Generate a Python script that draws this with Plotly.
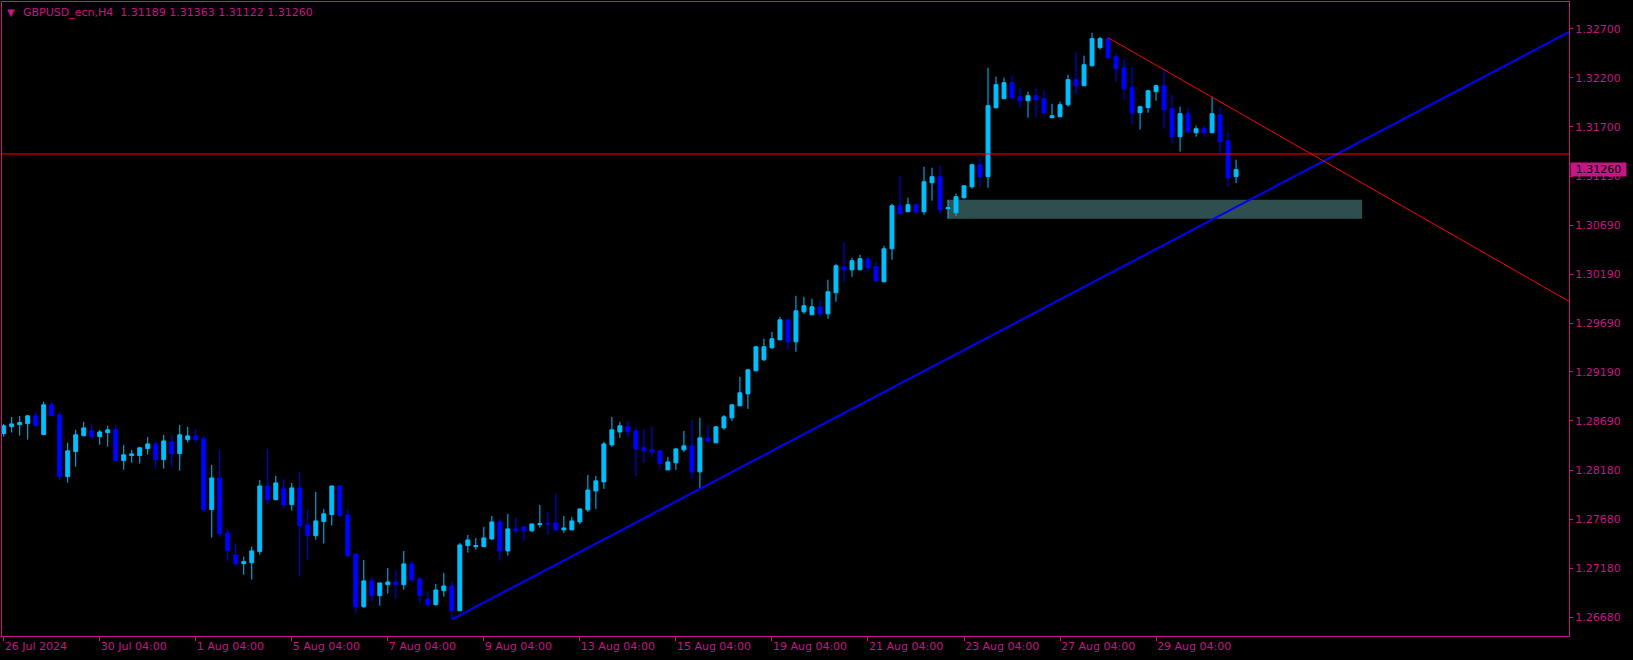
import plotly.graph_objects as go

# ---------------- data ----------------
symbol_title = "GBPUSD_ecn,H4  1.31189 1.31363 1.31122 1.31260"

opens = [
    1.28559, 1.28631, 1.28651, 1.28661, 1.28740, 1.28549, 1.28853, 1.28750, 1.28119, 1.28375,
    1.28538, 1.28587, 1.28528, 1.28569, 1.28597, 1.28282, 1.28334, 1.28334, 1.28405, 1.28453,
    1.28293, 1.28474, 1.28354, 1.28497, 1.28535, 1.28505, 1.27781, 1.28105, 1.27542, 1.27317,
    1.27228, 1.27238, 1.27351, 1.28023, 1.27883, 1.27993, 1.27832, 1.28003, 1.27624, 1.27514,
    1.27658, 1.27730, 1.28023, 1.27726, 1.27327, 1.26787, 1.27051, 1.26900, 1.27013, 1.27040,
    1.27013, 1.27225, 1.27071, 1.26866, 1.26808, 1.26951, 1.26999, 1.26746, 1.27412, 1.27402,
    1.27402, 1.27481, 1.27655, 1.27358, 1.27583, 1.27604, 1.27563, 1.27627, 1.27641, 1.27645,
    1.27573, 1.27573, 1.27655, 1.27778, 1.27972, 1.28064, 1.28443, 1.28576, 1.28628, 1.28587,
    1.28413, 1.28392, 1.28382, 1.28187, 1.28259, 1.28392, 1.28433, 1.28167, 1.28515, 1.28464,
    1.28617, 1.28720, 1.28843, 1.28965, 1.29201, 1.29314, 1.29437, 1.29518, 1.29723, 1.29498,
    1.29805, 1.29774, 1.29856, 1.29785, 1.30000, 1.30266, 1.30235, 1.30235, 1.30348, 1.30266,
    1.30112, 1.30450, 1.30891, 1.30829, 1.30901, 1.30829, 1.31126, 1.31188, 1.30860, 1.30819,
    1.30973, 1.31085, 1.31310, 1.31188, 1.31894, 1.31986, 1.32150, 1.32007, 1.31966, 1.32017,
    1.31986, 1.31792, 1.31802, 1.31925, 1.32181, 1.32119, 1.32324, 1.32509, 1.32601, 1.32416,
    1.32304, 1.32099, 1.31843, 1.31894, 1.32058, 1.32119, 1.31884, 1.31597, 1.31833, 1.31638,
    1.31679, 1.31638, 1.31822, 1.31556, 1.31189,
]
highs = [
    1.28658, 1.28730, 1.28740, 1.28750, 1.28781, 1.28884, 1.28884, 1.28781, 1.28464, 1.28597,
    1.28679, 1.28658, 1.28597, 1.28638, 1.28648, 1.28443, 1.28392, 1.28423, 1.28525, 1.28474,
    1.28546, 1.28546, 1.28648, 1.28628, 1.28607, 1.28535, 1.28238, 1.28392, 1.27583, 1.27429,
    1.27299, 1.27402, 1.28085, 1.28402, 1.28126, 1.28095, 1.28054, 1.28167, 1.27781, 1.27962,
    1.27788, 1.28023, 1.28034, 1.27788, 1.27327, 1.27266, 1.27092, 1.27030, 1.27184, 1.27163,
    1.27358, 1.27255, 1.27092, 1.26948, 1.27020, 1.27133, 1.27040, 1.27440, 1.27522, 1.27491,
    1.27604, 1.27716, 1.27685, 1.27737, 1.27696, 1.27614, 1.27634, 1.27829, 1.27757, 1.27941,
    1.27716, 1.27706, 1.27788, 1.28136, 1.28126, 1.28474, 1.28730, 1.28679, 1.28689, 1.28628,
    1.28607, 1.28638, 1.28382, 1.28320, 1.28413, 1.28587, 1.28699, 1.28720, 1.28648, 1.28638,
    1.28750, 1.28853, 1.29140, 1.29221, 1.29457, 1.29529, 1.29600, 1.29754, 1.29723, 1.29969,
    1.29959, 1.29938, 1.29928, 1.30133, 1.30297, 1.30522, 1.30358, 1.30389, 1.30358, 1.30317,
    1.30481, 1.30911, 1.31198, 1.30973, 1.30911, 1.31290, 1.31280, 1.31300, 1.30952, 1.31013,
    1.31095, 1.31321, 1.31372, 1.32304, 1.32212, 1.32201, 1.32222, 1.32099, 1.32058, 1.32099,
    1.32078, 1.31935, 1.31956, 1.32232, 1.32468, 1.32427, 1.32662, 1.32621, 1.32611, 1.32447,
    1.32396, 1.32314, 1.31915, 1.32078, 1.32130, 1.32283, 1.32027, 1.31904, 1.31894, 1.31710,
    1.31710, 1.32007, 1.31894, 1.31648, 1.31363,
]
lows = [
    1.28528, 1.28569, 1.28538, 1.28497, 1.28641, 1.28549, 1.28733, 1.28078, 1.28057, 1.28221,
    1.28528, 1.28508, 1.28446, 1.28426, 1.28282, 1.28190, 1.28262, 1.28252, 1.28344, 1.28201,
    1.28201, 1.28221, 1.28180, 1.28467, 1.28467, 1.27760, 1.27494, 1.27504, 1.27258, 1.27197,
    1.27115, 1.27064, 1.27320, 1.27832, 1.27873, 1.27791, 1.27770, 1.27095, 1.27269, 1.27473,
    1.27433, 1.27617, 1.27709, 1.27289, 1.26716, 1.26777, 1.26839, 1.26798, 1.26921, 1.26869,
    1.26962, 1.27033, 1.26828, 1.26777, 1.26798, 1.26890, 1.26658, 1.26746, 1.27340, 1.27371,
    1.27402, 1.27470, 1.27258, 1.27310, 1.27532, 1.27460, 1.27555, 1.27596, 1.27522, 1.27573,
    1.27542, 1.27573, 1.27634, 1.27757, 1.27788, 1.27993, 1.28423, 1.28515, 1.28525, 1.28126,
    1.28259, 1.28320, 1.28197, 1.28187, 1.28187, 1.28372, 1.28095, 1.27993, 1.28464, 1.28464,
    1.28597, 1.28689, 1.28843, 1.28812, 1.29201, 1.29303, 1.29426, 1.29518, 1.29416, 1.29396,
    1.29785, 1.29774, 1.29754, 1.29733, 1.29908, 1.30112, 1.30164, 1.30235, 1.30215, 1.30102,
    1.30112, 1.30338, 1.30809, 1.30829, 1.30809, 1.30798, 1.30942, 1.30809, 1.30757, 1.30788,
    1.30962, 1.31065, 1.31095, 1.31075, 1.31884, 1.31986, 1.31976, 1.31894, 1.31792, 1.31792,
    1.31812, 1.31792, 1.31802, 1.31904, 1.32027, 1.32119, 1.32314, 1.32488, 1.32396, 1.32160,
    1.31976, 1.31730, 1.31669, 1.31843, 1.31966, 1.31679, 1.31525, 1.31444, 1.31628, 1.31597,
    1.31597, 1.31638, 1.31423, 1.31085, 1.31122,
]
closes = [
    1.28638, 1.28658, 1.28672, 1.28740, 1.28641, 1.28853, 1.28743, 1.28119, 1.28382, 1.28546,
    1.28617, 1.28528, 1.28576, 1.28597, 1.28282, 1.28341, 1.28351, 1.28413, 1.28453, 1.28293,
    1.28484, 1.28354, 1.28546, 1.28535, 1.28497, 1.27781, 1.28105, 1.27535, 1.27361, 1.27228,
    1.27248, 1.27358, 1.28023, 1.27883, 1.28054, 1.27832, 1.28003, 1.27617, 1.27514, 1.27665,
    1.27737, 1.28023, 1.27719, 1.27310, 1.26787, 1.27051, 1.26900, 1.27030, 1.27040, 1.27013,
    1.27225, 1.27064, 1.26900, 1.26808, 1.26958, 1.26999, 1.26746, 1.27419, 1.27470, 1.27412,
    1.27491, 1.27655, 1.27358, 1.27583, 1.27563, 1.27563, 1.27634, 1.27637, 1.27634, 1.27573,
    1.27593, 1.27665, 1.27788, 1.27982, 1.28075, 1.28453, 1.28597, 1.28638, 1.28576, 1.28402,
    1.28382, 1.28372, 1.28252, 1.28269, 1.28402, 1.28433, 1.28167, 1.28515, 1.28484, 1.28628,
    1.28730, 1.28853, 1.28976, 1.29211, 1.29447, 1.29447, 1.29529, 1.29723, 1.29498, 1.29815,
    1.29867, 1.29856, 1.29785, 1.30010, 1.30276, 1.30235, 1.30327, 1.30348, 1.30256, 1.30123,
    1.30450, 1.30891, 1.30809, 1.30901, 1.30829, 1.31136, 1.31188, 1.30850, 1.30870, 1.30983,
    1.31095, 1.31310, 1.31188, 1.31915, 1.32130, 1.32150, 1.31996, 1.31966, 1.32017, 1.31976,
    1.31843, 1.31812, 1.31925, 1.32181, 1.32119, 1.32334, 1.32601, 1.32601, 1.32406, 1.32293,
    1.32089, 1.31843, 1.31904, 1.32068, 1.32119, 1.31874, 1.31597, 1.31833, 1.31648, 1.31679,
    1.31638, 1.31833, 1.31546, 1.31177, 1.31260,
]
bar_index = list(range(len(opens)))

date_tick_index = [0, 12, 24, 36, 48, 60, 72, 84, 96, 108, 120, 132, 144]
date_tick_labels = ["26 Jul 2024", "30 Jul 04:00", "1 Aug 04:00", "5 Aug 04:00",
                    "7 Aug 04:00", "9 Aug 04:00", "13 Aug 04:00", "15 Aug 04:00",
                    "19 Aug 04:00", "21 Aug 04:00", "23 Aug 04:00", "27 Aug 04:00",
                    "29 Aug 04:00"]

price_ticks = [1.32700, 1.32200, 1.31700, 1.31190, 1.30690, 1.30190, 1.29690,
               1.29190, 1.28690, 1.28180, 1.27680, 1.27180, 1.26680]
price_tick_labels = ["1.32700", "1.32200", "1.31700", "1.31190", "1.30690", "1.30190",
                     "1.29690", "1.29190", "1.28690", "1.28180", "1.27680", "1.27180",
                     "1.26680"]

# objects drawn on the chart
support_anchor_bars = [56, 87]          # trend line through two lows
resistance_anchor_bars = [138, 145]     # trend line through two highs
horizontal_level = 1.31420
zone_bars = [118, 169.75]
zone_prices = [1.30757, 1.30952]
current_price = 1.31260

# view
x_view = [-0.21, 195.6]
y_view = [1.26487, 1.32976]

# ---------------- style ----------------
BULL = "#00BFFF"
BEAR = "#0000FF"
AXIS = "#C71585"
FONT = "DejaVu Sans"

fig = go.Figure()

fig.add_shape(type="rect", xref="x", yref="y",
              x0=zone_bars[0], x1=zone_bars[1], y0=zone_prices[0], y1=zone_prices[1],
              fillcolor="#2F4F4F", line=dict(width=0), layer="below")

fig.add_trace(go.Candlestick(
    x=bar_index, open=opens, high=highs, low=lows, close=closes,
    increasing=dict(line=dict(color=BULL, width=1), fillcolor=BULL),
    decreasing=dict(line=dict(color=BEAR, width=1), fillcolor=BEAR),
    whiskerwidth=0, showlegend=False, hoverinfo="skip",
))


def ray(anchors, values):
    x0, x1 = anchors
    y0, y1 = values[x0], values[x1]
    slope = (y1 - y0) / (x1 - x0)
    return [x0, x_view[1]], [y0, y0 + slope * (x_view[1] - x0)]


sx, sy = ray(support_anchor_bars, lows)
fig.add_trace(go.Scatter(x=sx, y=sy, mode="lines", line=dict(color="#0000FF", width=2),
                         showlegend=False, hoverinfo="skip"))

rx, ry = ray(resistance_anchor_bars, highs)
fig.add_trace(go.Scatter(x=rx, y=ry, mode="lines", line=dict(color="#FF0000", width=1),
                         showlegend=False, hoverinfo="skip"))

fig.add_trace(go.Scatter(x=x_view, y=[horizontal_level, horizontal_level], mode="lines",
                         line=dict(color="#FF0000", width=1),
                         showlegend=False, hoverinfo="skip"))

fig.add_annotation(xref="paper", yref="paper", x=0, y=1, xanchor="left", yanchor="middle",
                   xshift=3, yshift=-10, text="▼", showarrow=False,
                   font=dict(family=FONT, size=10, color=AXIS))
fig.add_annotation(xref="paper", yref="paper", x=0, y=1, xanchor="left", yanchor="middle",
                   xshift=19, yshift=-10, text=symbol_title, showarrow=False,
                   font=dict(family=FONT, size=11, color=AXIS))

fig.add_annotation(xref="paper", yref="y", x=1, y=current_price, xanchor="left",
                   yanchor="middle", xshift=1, text=f"{current_price:.5f}", showarrow=False,
                   bgcolor=AXIS, width=55, height=13, borderpad=0,
                   font=dict(family=FONT, size=11, color="#000000"))

fig.update_layout(
    width=1633, height=660,
    paper_bgcolor="#000000", plot_bgcolor="#000000",
    margin=dict(l=2, r=64, t=2, b=24),
    boxgap=0.3, boxgroupgap=0.3,
    showlegend=False,
    xaxis=dict(
        range=x_view, rangeslider=dict(visible=False), showgrid=False, zeroline=False,
        showline=True, linecolor=AXIS, linewidth=1, mirror=True,
        ticks="outside", ticklen=4, tickcolor=AXIS, tickwidth=1,
        tickvals=date_tick_index, ticktext=date_tick_labels,
        ticklabelposition="outside right",
        tickfont=dict(family=FONT, size=11, color=AXIS),
    ),
    yaxis=dict(
        range=y_view, side="right", showgrid=False, zeroline=False,
        showline=True, linecolor=AXIS, linewidth=1, mirror=True,
        ticks="outside", ticklen=3, tickcolor=AXIS, tickwidth=1,
        tickvals=price_ticks, ticktext=price_tick_labels,
        tickfont=dict(family=FONT, size=11, color=AXIS),
    ),
)

fig.write_html(
    "out.html",
    config={"displayModeBar": False, "staticPlot": True},
    post_script="document.body.style.margin='0';document.body.style.background='#000';",
)
